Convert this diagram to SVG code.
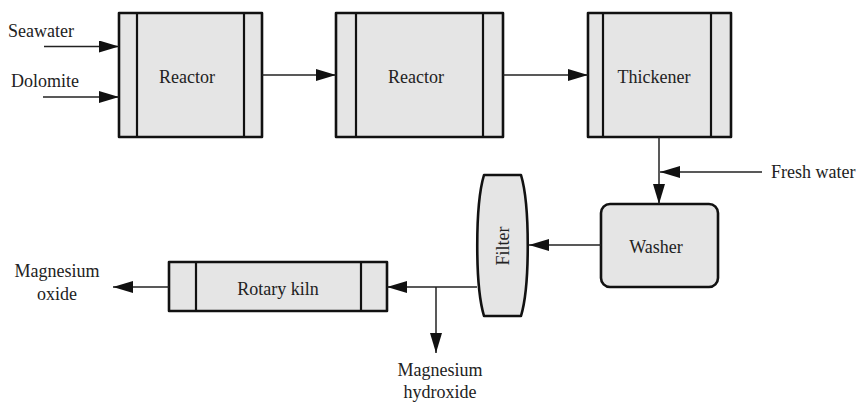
<svg xmlns="http://www.w3.org/2000/svg" width="860" height="402" viewBox="0 0 860 402">
<defs>
<style>
.box{fill:#e5e5e5;stroke:#111;stroke-width:2.6;stroke-linejoin:round}
.div{stroke:#111;stroke-width:2.2;fill:none}
.con{stroke:#222;stroke-width:1.5;fill:none}
text{font-family:'Liberation Serif','Times New Roman','DejaVu Serif',serif;font-size:18px;fill:#222}
.c{text-anchor:middle}
</style>
<marker id="ah" viewBox="0 0 20 12" refX="20" refY="6" markerWidth="20" markerHeight="12" markerUnits="userSpaceOnUse" orient="auto">
<path d="M0,0 L20,6 L0,12 Z" fill="#111"/>
</marker>
</defs>
<rect width="860" height="402" fill="#fff"/>
<g id="reactor1">
<rect class="box" x="119" y="13" width="143" height="124"/>
<line class="div" x1="137" y1="13" x2="137" y2="137"/>
<line class="div" x1="244" y1="13" x2="244" y2="137"/>
<text class="c" x="187" y="83" font-family="Liberation Serif, serif">Reactor</text>
</g>
<g id="reactor2">
<rect class="box" x="336" y="13" width="167" height="124"/>
<line class="div" x1="356" y1="13" x2="356" y2="137"/>
<line class="div" x1="483" y1="13" x2="483" y2="137"/>
<text class="c" x="416" y="83" font-family="Liberation Serif, serif">Reactor</text>
</g>
<g id="thickener">
<rect class="box" x="588" y="13" width="143" height="124"/>
<line class="div" x1="603" y1="13" x2="603" y2="137"/>
<line class="div" x1="711" y1="13" x2="711" y2="137"/>
<text class="c" x="654" y="83" font-family="Liberation Serif, serif">Thickener</text>
</g>
<g id="washer">
<rect class="box" x="601" y="204" width="117" height="83" rx="9" ry="9"/>
<text class="c" x="656" y="253" font-family="Liberation Serif, serif">Washer</text>
</g>
<g id="filter">
<path class="box" d="M484,175 H521 C530,205 530,286 521,316 H484 C475,286 475,205 484,175 Z"/>
<text class="c" transform="translate(509,246) rotate(-90)" font-family="Liberation Serif, serif">Filter</text>
</g>
<g id="kiln">
<rect class="box" x="169" y="262" width="218" height="49"/>
<line class="div" x1="196" y1="262" x2="196" y2="311"/>
<line class="div" x1="361" y1="262" x2="361" y2="311"/>
<text class="c" x="278" y="295" font-family="Liberation Serif, serif">Rotary kiln</text>
</g>
<g id="labels" font-family="Liberation Serif, serif">
<text x="8" y="37">Seawater</text>
<text x="11" y="87">Dolomite</text>
<text x="771" y="178">Fresh water</text>
<text class="c" x="57" y="277">Magnesium</text>
<text class="c" x="57" y="300">oxide</text>
<text class="c" x="440" y="376">Magnesium</text>
<text class="c" x="440" y="398">hydroxide</text>
</g>
<g id="connectors">
<line class="con" x1="44" y1="46.5" x2="119" y2="46.5" marker-end="url(#ah)"/>
<line class="con" x1="43" y1="97" x2="119" y2="97" marker-end="url(#ah)"/>
<line class="con" x1="262" y1="75" x2="336" y2="75" marker-end="url(#ah)"/>
<line class="con" x1="503" y1="75" x2="588" y2="75" marker-end="url(#ah)"/>
<line class="con" x1="659" y1="137" x2="659" y2="204" marker-end="url(#ah)"/>
<line class="con" x1="762" y1="172" x2="660" y2="172" marker-end="url(#ah)"/>
<line class="con" x1="601" y1="245" x2="529" y2="245" marker-end="url(#ah)"/>
<line class="con" x1="477" y1="287" x2="387" y2="287" marker-end="url(#ah)"/>
<line class="con" x1="436" y1="287" x2="436" y2="353" marker-end="url(#ah)"/>
<line class="con" x1="169" y1="287" x2="113" y2="287" marker-end="url(#ah)"/>
</g>
</svg>
